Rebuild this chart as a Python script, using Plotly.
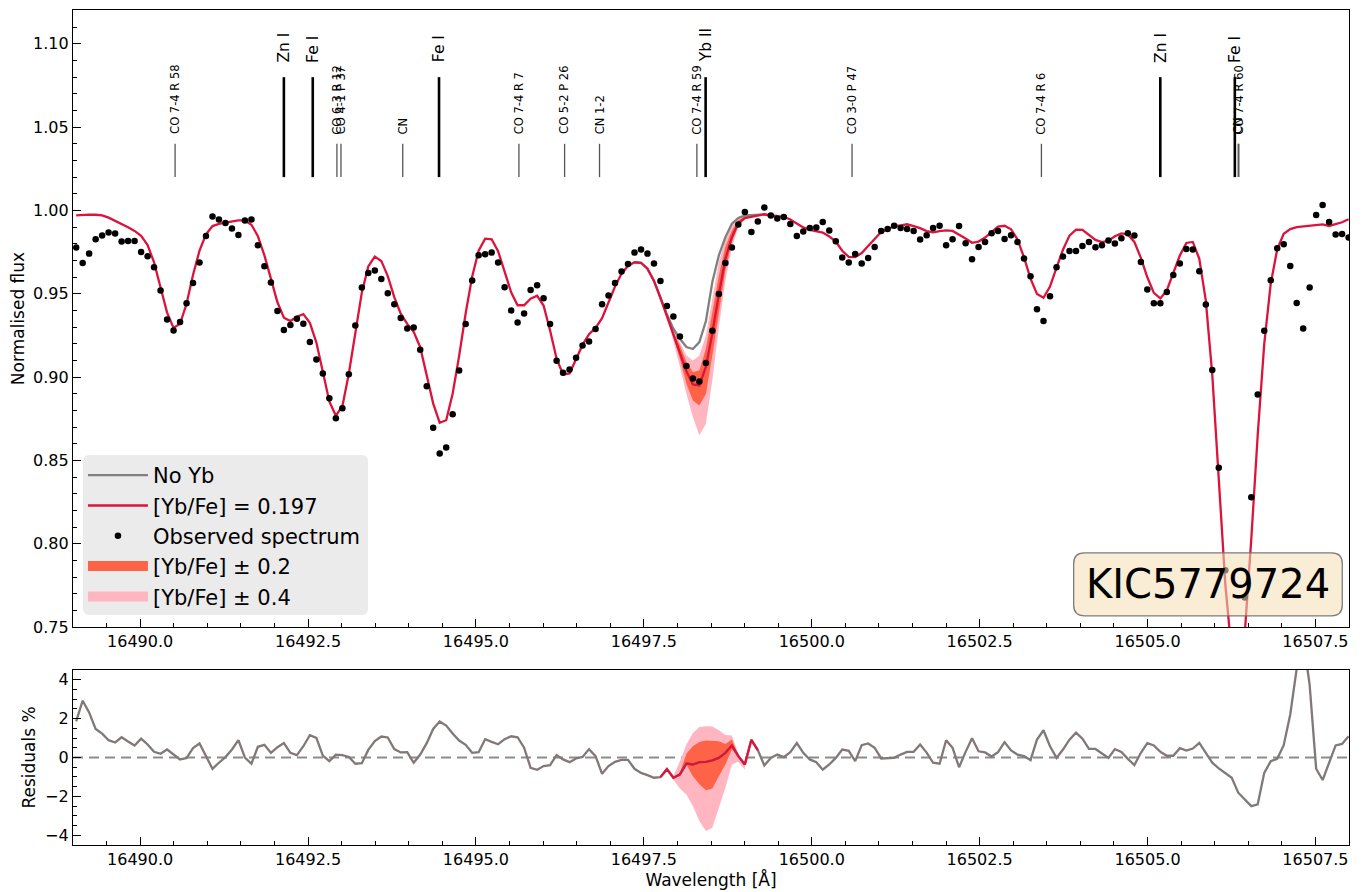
import plotly.graph_objects as go

# ---------------- data ----------------
wavelength = [
    16489.047, 16489.144, 16489.240, 16489.337, 16489.434, 16489.530, 16489.627, 16489.724, 16489.820, 16489.917,
    16490.014, 16490.111, 16490.207, 16490.304, 16490.401, 16490.497, 16490.594, 16490.691, 16490.787, 16490.884,
    16490.980, 16491.077, 16491.173, 16491.270, 16491.367, 16491.463, 16491.560, 16491.657, 16491.753, 16491.850,
    16491.947, 16492.044, 16492.140, 16492.237, 16492.334, 16492.430, 16492.527, 16492.624, 16492.720, 16492.817,
    16492.914, 16493.011, 16493.107, 16493.204, 16493.301, 16493.397, 16493.494, 16493.591, 16493.687, 16493.784,
    16493.880, 16493.977, 16494.073, 16494.170, 16494.267, 16494.363, 16494.460, 16494.557, 16494.653, 16494.750,
    16494.847, 16494.944, 16495.040, 16495.137, 16495.234, 16495.330, 16495.427, 16495.524, 16495.620, 16495.717,
    16495.814, 16495.911, 16496.007, 16496.104, 16496.201, 16496.297, 16496.394, 16496.491, 16496.587, 16496.684,
    16496.781, 16496.878, 16496.974, 16497.071, 16497.168, 16497.264, 16497.361, 16497.458, 16497.554, 16497.651,
    16497.747, 16497.844, 16497.940, 16498.037, 16498.134, 16498.230, 16498.327, 16498.424, 16498.520, 16498.617,
    16498.714, 16498.811, 16498.907, 16499.004, 16499.101, 16499.197, 16499.294, 16499.391, 16499.487, 16499.584,
    16499.681, 16499.778, 16499.874, 16499.971, 16500.068, 16500.164, 16500.261, 16500.358, 16500.454, 16500.551,
    16500.647, 16500.744, 16500.840, 16500.937, 16501.034, 16501.130, 16501.227, 16501.324, 16501.420, 16501.517,
    16501.614, 16501.711, 16501.807, 16501.904, 16502.001, 16502.097, 16502.194, 16502.291, 16502.387, 16502.484,
    16502.581, 16502.678, 16502.774, 16502.871, 16502.968, 16503.064, 16503.161, 16503.258, 16503.354, 16503.451,
    16503.548, 16503.645, 16503.741, 16503.838, 16503.935, 16504.031, 16504.128, 16504.225, 16504.321, 16504.418,
    16504.514, 16504.611, 16504.707, 16504.804, 16504.901, 16504.997, 16505.094, 16505.191, 16505.287, 16505.384,
    16505.481, 16505.578, 16505.674, 16505.771, 16505.868, 16505.964, 16506.061, 16506.158, 16506.254, 16506.351,
    16506.448, 16506.545, 16506.641, 16506.738, 16506.835, 16506.931, 16507.028, 16507.125, 16507.221, 16507.318,
    16507.414, 16507.511, 16507.607, 16507.704, 16507.801, 16507.897, 16507.994,
]

observed_flux = [
    0.9778, 0.9685, 0.9741, 0.9827, 0.9850, 0.9868, 0.9862, 0.9813, 0.9817, 0.9817,
    0.9751, 0.9725, 0.9659, 0.9519, 0.9346, 0.9280, 0.9330, 0.9443, 0.9565, 0.9687,
    0.9846, 0.9964, 0.9946, 0.9925, 0.9892, 0.9853, 0.9940, 0.9946, 0.9791, 0.9665,
    0.9567, 0.9396, 0.9282, 0.9312, 0.9350, 0.9320, 0.9210, 0.9106, 0.9022, 0.8873,
    0.8753, 0.8813, 0.9017, 0.9310, 0.9537, 0.9625, 0.9639, 0.9589, 0.9503, 0.9437,
    0.9354, 0.9292, 0.9298, 0.9164, 0.8945, 0.8695, 0.8541, 0.8577, 0.8777, 0.9040,
    0.9318, 0.9579, 0.9731, 0.9737, 0.9747, 0.9687, 0.9539, 0.9400, 0.9327, 0.9381,
    0.9523, 0.9551, 0.9473, 0.9318, 0.9098, 0.9026, 0.9046, 0.9116, 0.9190, 0.9214,
    0.9288, 0.9437, 0.9489, 0.9565, 0.9633, 0.9679, 0.9747, 0.9765, 0.9741, 0.9681,
    0.9577, 0.9427, 0.9363, 0.9244, 0.9066, 0.8992, 0.8974, 0.9084, 0.9278, 0.9499,
    0.9685, 0.9778, 0.9916, 0.9990, 0.9871, 0.9934, 1.0018, 0.9970, 0.9952, 0.9960,
    0.9919, 0.9847, 0.9874, 0.9894, 0.9898, 0.9930, 0.9880, 0.9815, 0.9717, 0.9687,
    0.9739, 0.9681, 0.9715, 0.9781, 0.9876, 0.9888, 0.9908, 0.9895, 0.9888, 0.9877,
    0.9826, 0.9851, 0.9895, 0.9908, 0.9791, 0.9827, 0.9906, 0.9803, 0.9707, 0.9781,
    0.9811, 0.9863, 0.9876, 0.9829, 0.9851, 0.9811, 0.9711, 0.9605, 0.9407, 0.9336,
    0.9485, 0.9659, 0.9723, 0.9757, 0.9757, 0.9787, 0.9811, 0.9779, 0.9791, 0.9820,
    0.9802, 0.9833, 0.9863, 0.9850, 0.9691, 0.9525, 0.9443, 0.9443, 0.9511, 0.9613,
    0.9681, 0.9769, 0.9765, 0.9635, 0.9435, 0.9042, 0.8455, 0.7841, 0.7440, 0.7400,
    0.7677, 0.8278, 0.8895, 0.9278, 0.9581, 0.9773, 0.9797, 0.9667, 0.9444, 0.9292,
    0.9537, 0.9972, 1.0032, 0.9931, 0.9856, 0.9859, 0.9838,
]

model_flux = [  # [Yb/Fe] = 0.197
    0.9970, 0.9974, 0.9975, 0.9974, 0.9970, 0.9957, 0.9939, 0.9919, 0.9899, 0.9877,
    0.9848, 0.9792, 0.9688, 0.9538, 0.9387, 0.9295, 0.9320, 0.9440, 0.9613, 0.9759,
    0.9856, 0.9906, 0.9919, 0.9927, 0.9933, 0.9940, 0.9940, 0.9914, 0.9846, 0.9730,
    0.9591, 0.9449, 0.9356, 0.9336, 0.9362, 0.9378, 0.9325, 0.9207, 0.9032, 0.8854,
    0.8768, 0.8825, 0.9020, 0.9278, 0.9508, 0.9664, 0.9723, 0.9697, 0.9606, 0.9480,
    0.9380, 0.9319, 0.9271, 0.9179, 0.9019, 0.8842, 0.8726, 0.8741, 0.8900, 0.9127,
    0.9383, 0.9603, 0.9758, 0.9831, 0.9827, 0.9755, 0.9633, 0.9509, 0.9431, 0.9431,
    0.9470, 0.9488, 0.9429, 0.9279, 0.9110, 0.9016, 0.9022, 0.9111, 0.9193, 0.9257,
    0.9295, 0.9353, 0.9445, 0.9543, 0.9621, 0.9667, 0.9689, 0.9686, 0.9650, 0.9577,
    0.9476, 0.9367, 0.9259, 0.9157, 0.9035, 0.8956, 0.8950, 0.9062, 0.9263, 0.9497,
    0.9709, 0.9840, 0.9923, 0.9954, 0.9962, 0.9972, 0.9977, 0.9968, 0.9967, 0.9962,
    0.9946, 0.9921, 0.9898, 0.9884, 0.9874, 0.9867, 0.9844, 0.9813, 0.9758, 0.9721,
    0.9720, 0.9744, 0.9787, 0.9831, 0.9871, 0.9886, 0.9906, 0.9910, 0.9917, 0.9906,
    0.9894, 0.9876, 0.9868, 0.9876, 0.9880, 0.9877, 0.9856, 0.9832, 0.9806, 0.9813,
    0.9837, 0.9868, 0.9903, 0.9908, 0.9887, 0.9826, 0.9718, 0.9591, 0.9499, 0.9476,
    0.9543, 0.9657, 0.9764, 0.9849, 0.9885, 0.9884, 0.9855, 0.9823, 0.9810, 0.9818,
    0.9845, 0.9862, 0.9856, 0.9811, 0.9715, 0.9599, 0.9505, 0.9472, 0.9520, 0.9622,
    0.9729, 0.9805, 0.9811, 0.9710, 0.9459, 0.9015, 0.8399, 0.7759, 0.7340, 0.7220,
    0.7462, 0.8028, 0.8654, 0.9199, 0.9562, 0.9766, 0.9860, 0.9888, 0.9900, 0.9905,
    0.9910, 0.9914, 0.9916, 0.9907, 0.9918, 0.9929, 0.9947,
]

residual_pct = [
    1.86, 2.92, 2.32, 1.47, 1.23, 0.89, 0.77, 1.04, 0.82, 0.62,
    0.97, 0.67, 0.29, 0.19, 0.41, 0.15, -0.10, -0.03, 0.48, 0.72,
    0.10, -0.58, -0.27, 0.02, 0.41, 0.89, 0.00, -0.32, 0.55, 0.65,
    0.24, 0.53, 0.74, 0.24, 0.12, 0.58, 1.15, 1.01, 0.10, -0.19,
    0.15, 0.12, 0.03, -0.32, -0.29, 0.39, 0.84, 1.08, 1.03, 0.43,
    0.26, 0.27, -0.27, 0.15, 0.74, 1.47, 1.85, 1.64, 1.23, 0.87,
    0.65, 0.24, 0.27, 0.94, 0.80, 0.68, 0.94, 1.09, 1.04, 0.50,
    -0.53, -0.63, -0.44, -0.39, 0.12, -0.10, -0.24, -0.05, 0.03, 0.43,
    0.07, -0.84, -0.44, -0.22, -0.12, -0.12, -0.58, -0.79, -0.91, -1.04,
    -1.01, -0.60, -1.04, -0.87, -0.31, -0.36, -0.24, -0.22, -0.15, -0.02,
    0.24, 0.62, 0.07, -0.36, 0.91, 0.38, -0.41, -0.02, 0.15, 0.02,
    0.27, 0.74, 0.24, -0.10, -0.24, -0.63, -0.36, -0.02, 0.41, 0.34,
    -0.19, 0.63, 0.72, 0.50, -0.05, -0.02, -0.02, 0.15, 0.29, 0.29,
    0.67, 0.25, -0.27, -0.32, 0.89, 0.50, -0.50, 0.29, 0.99, 0.32,
    0.26, 0.05, 0.27, 0.79, 0.36, 0.15, 0.07, -0.14, 0.92, 1.40,
    0.58, -0.02, 0.41, 0.92, 1.28, 0.97, 0.44, 0.44, 0.19, -0.02,
    0.43, 0.29, -0.07, -0.39, 0.24, 0.74, 0.62, 0.29, 0.09, 0.09,
    0.48, 0.36, 0.46, 0.75, 0.24, -0.27, -0.56, -0.82, -1.04, -1.81,
    -2.15, -2.50, -2.41, -0.79, -0.19, -0.07, 0.63, 2.21, 4.56, 6.13,
    3.73, -0.58, -1.16, -0.24, 0.62, 0.70, 1.09,
]

# "No Yb" synthesis where it departs from the fitted model (indices 86..108)
no_yb_start = 86
no_yb_flux = [
    0.9689, 0.9686, 0.9650, 0.9577, 0.9476, 0.9375, 0.9290, 0.9230, 0.9180, 0.9168,
    0.9210, 0.9336, 0.9570, 0.9730, 0.9840, 0.9920, 0.9955, 0.9970, 0.9972, 0.9975,
    0.9977, 0.9968, 0.9967,
]

# uncertainty bands around the Yb II line (indices 91..104)
band_start = 91
band_pm04_low = [0.9367, 0.922, 0.906, 0.890, 0.876, 0.865, 0.872, 0.898, 0.930, 0.958, 0.978, 0.990, 0.995, 0.9962]
band_pm04_high = [0.9367, 0.929, 0.921, 0.913, 0.910, 0.913, 0.925, 0.948, 0.969, 0.983, 0.991, 0.996, 0.997, 0.9962]
band_pm02_low = [0.9367, 0.924, 0.911, 0.896, 0.886, 0.883, 0.890, 0.913, 0.940, 0.964, 0.981, 0.991, 0.995, 0.9962]
band_pm02_high = [0.9367, 0.927, 0.919, 0.909, 0.903, 0.904, 0.917, 0.939, 0.961, 0.978, 0.988, 0.994, 0.9965, 0.9962]

# residual bands (indices 91..103)
res_band_start = 91
res_pm04_low = [-0.60, -1.15, -1.59, -1.90, -2.50, -3.26, -3.78, -3.61, -2.58, -1.56, -0.36, -0.22, -0.62]
res_pm04_high = [-0.60, -0.95, -0.19, 0.67, 1.26, 1.57, 1.61, 1.59, 1.40, 1.15, 1.13, 0.19, -0.36]
res_pm02_low = [-0.60, -1.06, -0.96, -0.36, -0.96, -1.38, -1.69, -1.59, -0.96, -0.36, 0.41, 0.00, -0.36]
res_pm02_high = [-0.60, -1.02, -0.78, 0.19, 0.58, 0.80, 0.87, 0.87, 0.84, 0.70, 0.92, 0.12, -0.36]
res_red_start, res_red_end = 90, 106

# line identifications
atomic_names = ["Zn I", "Fe I", "Fe I", "Yb II", "Zn I", "Fe I"]
atomic_wave = [16492.14, 16492.57, 16494.45, 16498.42, 16505.19, 16506.30]
molecular_names = ["CO 7-4 R 58", "CO 6-3 R 12", "CO 4-1 P 37", "CN", "CO 7-4 R 7",
                   "CO 5-2 P 26", "CN 1-2", "CO 7-4 R 59", "CO 3-0 P 47", "CO 7-4 R 6",
                   "CN", "CO 7-4 R 60"]
molecular_wave = [16490.52, 16492.93, 16492.99, 16493.91, 16495.64,
                  16496.32, 16496.84, 16498.29, 16500.60, 16503.42,
                  16506.35, 16506.36]

star_name = "KIC5779724"

# ---------------- figure ----------------
FONT = "DejaVu Sans"
CRIMSON = "#DC143C"
TOMATO = "#FF6347"
PINK = "#FFB6C1"
fig = go.Figure()

bx = wavelength[band_start:band_start + len(band_pm04_low)]
fig.add_trace(go.Scatter(x=bx, y=band_pm04_low, mode="lines", line=dict(width=0),
                         showlegend=False, hoverinfo="skip", xaxis="x", yaxis="y"))
fig.add_trace(go.Scatter(x=bx, y=band_pm04_high, mode="lines", line=dict(width=0),
                         fill="tonexty", fillcolor=PINK, showlegend=False, xaxis="x", yaxis="y"))
fig.add_trace(go.Scatter(x=bx, y=band_pm02_low, mode="lines", line=dict(width=0),
                         showlegend=False, hoverinfo="skip", xaxis="x", yaxis="y"))
fig.add_trace(go.Scatter(x=bx, y=band_pm02_high, mode="lines", line=dict(width=0),
                         fill="tonexty", fillcolor=TOMATO, showlegend=False, xaxis="x", yaxis="y"))

nx = wavelength[no_yb_start:no_yb_start + len(no_yb_flux)]
fig.add_trace(go.Scatter(x=nx, y=no_yb_flux, mode="lines", line=dict(color="#808080", width=2.3),
                         name="No Yb", legendrank=1, xaxis="x", yaxis="y"))
fig.add_trace(go.Scatter(x=wavelength, y=model_flux, mode="lines", line=dict(color=CRIMSON, width=2.3),
                         name="[Yb/Fe] = 0.197", legendrank=2, xaxis="x", yaxis="y"))
fig.add_trace(go.Scatter(x=wavelength, y=observed_flux, mode="markers",
                         marker=dict(color="black", size=6.5), name="Observed spectrum",
                         legendrank=3, xaxis="x", yaxis="y"))
# legend patches for the bands
fig.add_trace(go.Scatter(x=[None], y=[None], mode="lines", line=dict(color=TOMATO, width=14),
                         name="[Yb/Fe] ± 0.2", legendrank=4, xaxis="x", yaxis="y"))
fig.add_trace(go.Scatter(x=[None], y=[None], mode="lines", line=dict(color=PINK, width=14),
                         name="[Yb/Fe] ± 0.4", legendrank=5, xaxis="x", yaxis="y"))

# residual panel
rx = wavelength[res_band_start:res_band_start + len(res_pm04_low)]
fig.add_trace(go.Scatter(x=rx, y=res_pm04_low, mode="lines", line=dict(width=0),
                         showlegend=False, xaxis="x2", yaxis="y2"))
fig.add_trace(go.Scatter(x=rx, y=res_pm04_high, mode="lines", line=dict(width=0),
                         fill="tonexty", fillcolor=PINK, showlegend=False, xaxis="x2", yaxis="y2"))
fig.add_trace(go.Scatter(x=rx, y=res_pm02_low, mode="lines", line=dict(width=0),
                         showlegend=False, xaxis="x2", yaxis="y2"))
fig.add_trace(go.Scatter(x=rx, y=res_pm02_high, mode="lines", line=dict(width=0),
                         fill="tonexty", fillcolor=TOMATO, showlegend=False, xaxis="x2", yaxis="y2"))
fig.add_trace(go.Scatter(x=wavelength, y=residual_pct, mode="lines",
                         line=dict(color="#827878", width=2.3), showlegend=False, xaxis="x2", yaxis="y2"))
fig.add_trace(go.Scatter(x=wavelength[res_red_start:res_red_end], y=residual_pct[res_red_start:res_red_end],
                         mode="lines", line=dict(color=CRIMSON, width=2.3), showlegend=False,
                         xaxis="x2", yaxis="y2"))

shapes = []
annotations = []
# zero line in residuals
shapes.append(dict(type="line", xref="x2 domain", yref="y2", x0=0, x1=1, y0=0, y1=0,
                   line=dict(color="rgba(128,128,128,0.9)", width=2, dash="10px,6px"), layer="below"))

for name, w in zip(molecular_names, molecular_wave):
    shapes.append(dict(type="line", xref="x", yref="y", x0=w, x1=w, y0=1.02, y1=1.04,
                       line=dict(color="#555555", width=1.3)))
    annotations.append(dict(x=w, y=1.0445, xref="x", yref="y", text=name, showarrow=False,
                            textangle=-90, xanchor="center", yanchor="bottom",
                            font=dict(family=FONT, size=11.5, color="black")))
for name, w in zip(atomic_names, atomic_wave):
    shapes.append(dict(type="line", xref="x", yref="y", x0=w, x1=w, y0=1.02, y1=1.08,
                       line=dict(color="black", width=2.6)))
    annotations.append(dict(x=w, y=1.0875, xref="x", yref="y", text=name, showarrow=False,
                            textangle=-90, xanchor="center", yanchor="bottom",
                            font=dict(family=FONT, size=15.5, color="black")))


def rounded_box(x0, x1, y0, y1, rx, ry):
    return (f"M {x0+rx},{y0} L {x1-rx},{y0} Q {x1},{y0} {x1},{y0+ry} "
            f"L {x1},{y1-ry} Q {x1},{y1} {x1-rx},{y1} L {x0+rx},{y1} "
            f"Q {x0},{y1} {x0},{y1-ry} L {x0},{y0+ry} Q {x0},{y0} {x0+rx},{y0} Z")


# legend background with rounded corners (paper coordinates)
shapes.append(dict(type="path", xref="paper", yref="paper",
                   path=rounded_box(0.0078, 0.2312, 0.2754, 0.467, 0.005, 0.008),
                   fillcolor="#EBEBEB", line=dict(width=0), layer="above"))

# star label box with rounded corners
bx0, bx1, by0, by1 = 16503.90, 16507.90, 0.7567, 0.7945
shapes.append(dict(type="path", xref="x", yref="y", path=rounded_box(bx0, bx1, by0, by1, 0.16, 0.0065),
                   fillcolor="rgba(245,222,179,0.55)",
                   line=dict(color="rgba(110,110,110,0.9)", width=1.3), layer="above"))
annotations.append(dict(x=(bx0 + bx1) / 2, y=(by0 + by1) / 2, xref="x", yref="y", text=star_name,
                        showarrow=False, xanchor="center", yanchor="middle",
                        font=dict(family=FONT, size=40, color="black")))

axis_common = dict(showline=True, mirror=True, linecolor="black", linewidth=1.3,
                   ticks="inside", tickcolor="black", tickwidth=1.2, showgrid=False, zeroline=False,
                   automargin=False,
                   tickfont=dict(family=FONT, size=16, color="black"))

# the page places the figure 8 px from the top-left corner, so the figure is
# 8 px smaller than the window and the margins are shifted accordingly
fig.update_layout(
    width=1354, height=884,
    margin=dict(l=65, r=13, t=2, b=47),
    plot_bgcolor="white", paper_bgcolor="white",
    font=dict(family=FONT, size=16, color="black"),
    shapes=shapes, annotations=annotations,
    showlegend=True,
    legend=dict(x=0.0078, y=0.467, xanchor="left", yanchor="top", traceorder="normal",
                bgcolor="rgba(0,0,0,0)", borderwidth=0, font=dict(family=FONT, size=21, color="black"),
                itemwidth=60, tracegroupgap=0),
    xaxis=dict(axis_common, domain=[0, 1], anchor="y", range=[16489.0, 16508.0],
               tickmode="linear", tick0=16490, dtick=2.5, tickformat=".1f", ticklen=8,
               minor=dict(ticks="inside", dtick=0.5, tick0=16490, ticklen=4, tickcolor="black")),
    yaxis=dict(axis_common, domain=[0.2611, 1], anchor="x", range=[0.75, 1.1203],
               tickmode="linear", tick0=0.75, dtick=0.05, tickformat=".2f", ticklen=8,
               minor=dict(ticks="inside", dtick=0.01, tick0=0.75, ticklen=4, tickcolor="black"),
               title=dict(text="Normalised flux", standoff=5, font=dict(family=FONT, size=17))),
    xaxis2=dict(axis_common, domain=[0, 1], anchor="y2", range=[16489.0, 16508.0],
                tickmode="linear", tick0=16490, dtick=2.5, tickformat=".1f", ticklen=8,
                minor=dict(ticks="inside", dtick=0.5, tick0=16490, ticklen=4, tickcolor="black"),
                title=dict(text="Wavelength [Å]", standoff=4, font=dict(family=FONT, size=17))),
    yaxis2=dict(axis_common, domain=[0, 0.2096], anchor="x2", range=[-4.5, 4.5],
                tickmode="linear", tick0=-4, dtick=2, ticklen=8,
                minor=dict(ticks="inside", dtick=0.5, tick0=-4, ticklen=4, tickcolor="black"),
                title=dict(text="Residuals %", standoff=5, font=dict(family=FONT, size=17))),
)

fig.write_html("out.html")
